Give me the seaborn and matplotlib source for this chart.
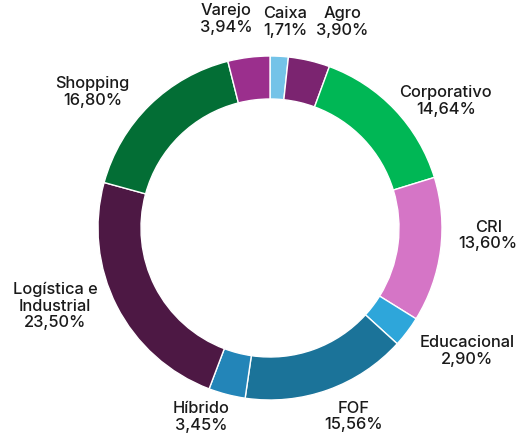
import numpy as np
import matplotlib
matplotlib.use("Agg")
import matplotlib.pyplot as plt
import seaborn as sns

# dados
categorias = ['Caixa', 'Agro', 'Corporativo', 'CRI', 'Educacional', 'FOF',
              'Híbrido', 'Logística e\nIndustrial', 'Shopping', 'Varejo']
valores = [1.71, 3.90, 14.64, 13.60, 2.90, 15.56, 3.45, 23.50, 16.80, 3.94]
cores = ['#74C3E8', '#7B2470', '#00B755', '#D575C6', '#2EA6DA', '#1B7399',
         '#2385B8', '#4D1844', '#036E35', '#9B2F8D']

# ajuste dos rotulos (graus no sentido horario, raio relativo)
desloc_ang = [1.1, 6.1, 7.7, -5.4, -5, -4.3, 5.5, 7, -8.1, -4.8]
desloc_r = [1.20, 1.27, 1.26, 1.27, 1.35, 1.20, 1.17, 1.33, 1.30, 1.24]

sns.set_theme(style='white')
plt.rcParams['font.family'] = ['Inter', 'DejaVu Sans']

fig = plt.figure(figsize=(5.25, 4.34), dpi=100)
ax = fig.add_axes([0, 0, 1, 1])
R = 172
cx, cy = 270, 434 - 228
wedges, _ = ax.pie(valores, colors=cores, startangle=90, counterclock=False,
                   radius=R, center=(cx, cy),
                   wedgeprops=dict(width=0.25 * R, edgecolor='white', linewidth=1))

for w, nome, v, da, dr in zip(wedges, categorias, valores, desloc_ang, desloc_r):
    ang = np.deg2rad((w.theta1 + w.theta2) / 2 - da)
    x = cx + dr * R * np.cos(ang)
    y = cy + dr * R * np.sin(ang)
    txt = f"{nome}\n{v:.2f}%".replace('.', ',')
    ax.text(x, y, txt, ha='center', va='center', fontsize=11.8, color='#1a1a1a',
            fontweight='medium', linespacing=1.15, multialignment='center')

ax.set_xlim(0, 525)
ax.set_ylim(0, 434)
ax.set_aspect('equal')
ax.axis('off')
fig.savefig('out.png', dpi=100)
